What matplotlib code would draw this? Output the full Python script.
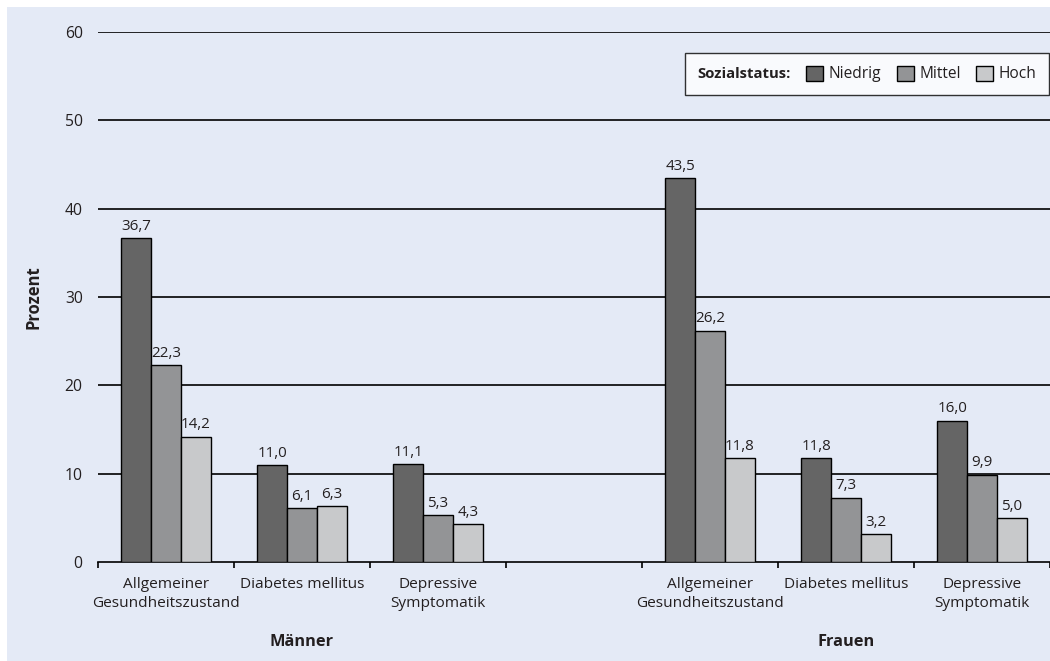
import numpy as np
import matplotlib
matplotlib.use('Agg')
import matplotlib.pyplot as plt
from matplotlib.patches import Rectangle

plt.rcParams['font.family'] = ['Open Sans', 'DejaVu Sans']

categories = ['Allgemeiner\nGesundheitszustand', 'Diabetes mellitus', 'Depressive\nSymptomatik']
groups = ['Männer', 'Frauen']
status = ['Niedrig', 'Mittel', 'Hoch']

maenner_niedrig = [36.7, 11.0, 11.1]
maenner_mittel = [22.3, 6.1, 5.3]
maenner_hoch = [14.2, 6.3, 4.3]
frauen_niedrig = [43.5, 11.8, 16.0]
frauen_mittel = [26.2, 7.3, 9.9]
frauen_hoch = [11.8, 3.2, 5.0]

yticks = [0, 10, 20, 30, 40, 50, 60]

colors = ['#656565', '#939496', '#c8c9cb']
txt = '#231f20'
bg = '#e4eaf6'

fig = plt.figure(figsize=(10.5, 6.61), dpi=100, facecolor='white')
fig.patches.append(Rectangle((7 / 1050, 0), 1 - 7 / 1050, (661 - 7) / 661,
                             transform=fig.transFigure, facecolor=bg,
                             edgecolor='none', zorder=-10))
ax = fig.add_axes([98 / 1050, 99 / 661, 952 / 1050, 530 / 661])
ax.set_zorder(1)
ax.set_facecolor('none')

# slot positions: 3 Männer, one empty, 3 Frauen
centers = np.array([0, 1, 2, 4, 5, 6])
w = 0.22
series = [maenner_niedrig + frauen_niedrig,
          maenner_mittel + frauen_mittel,
          maenner_hoch + frauen_hoch]
handles = []
for i, vals in enumerate(series):
    xs = centers + (i - 1) * w
    b = ax.bar(xs, vals, w, color=colors[i], edgecolor='black', linewidth=1.0,
               zorder=3, label=status[i])
    handles.append(b)
    for x, v in zip(xs, vals):
        ax.annotate(('%.1f' % v).replace('.', ','), (x, v), xytext=(0, 3),
                    textcoords='offset points', ha='center', va='bottom',
                    fontsize=10.9, color=txt, zorder=4)

ax.set_xlim(-0.5, 6.5)
ax.set_ylim(0, 60)
ax.set_yticks(yticks)
ax.set_yticklabels([str(t) for t in yticks], fontsize=11.3, color=txt)
ax.tick_params(axis='y', length=0, pad=11)
for t in yticks[1:]:
    ax.axhline(t, color='black', lw=1.2, zorder=1)

ax.set_xticks(centers)
ax.set_xticklabels(categories * 2, fontsize=11.1, color=txt, linespacing=1.3)
ax.tick_params(axis='x', which='major', length=0, pad=11)
ax.set_xticks(np.arange(-0.5, 7, 1), minor=True)
ax.tick_params(axis='x', which='minor', length=4, width=1.2, color='black')

for s in ['top', 'right', 'left']:
    ax.spines[s].set_visible(False)
ax.spines['bottom'].set_linewidth(1.2)

for g, xc in zip(groups, [1, 5]):
    ax.text(xc, -0.151, g, transform=ax.get_xaxis_transform(), ha='center',
            va='center', fontsize=11.8, fontweight='bold', color=txt)

fig.text(33 / 1050, (661 - 297) / 661, 'Prozent', rotation=90, ha='center',
         va='center', fontsize=12, fontweight='bold', color=txt)

leg = ax.legend(handles, status, ncol=3, title='Sozialstatus:',
                loc='upper right', bbox_to_anchor=(0.999, 0.96), borderaxespad=0,
                frameon=True, fancybox=False, edgecolor='black', fontsize=11.2,
                title_fontproperties={'weight': 'bold', 'size': 10.7},
                handlelength=1.1, handleheight=1.1, handletextpad=0.35,
                columnspacing=0.75, borderpad=0.8)
leg.get_frame().set_linewidth(1.0)
leg.get_frame().set_facecolor('white')
for t in leg.get_texts() + [leg.get_title()]:
    t.set_color(txt)
# put the title in the same row as the entries
box = leg.get_children()[0]
title_box, entries = box.get_children()[0], box.get_children()[1]
box._children = [entries]
entries._children = [title_box] + entries.get_children()
entries.sep = 11

fig.savefig('out.png', dpi=100, facecolor=fig.get_facecolor())
